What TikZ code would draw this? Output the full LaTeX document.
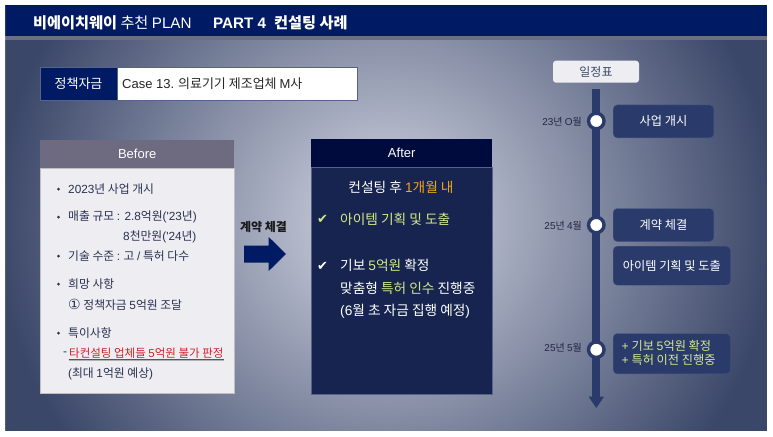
\documentclass[tikz,border=0pt]{standalone}
\usepackage{fontspec}
\setmainfont{Noto Sans CJK KR}
\newfontfamily\la{Liberation Sans}
\newfontfamily\sym{DejaVu Sans}
\definecolor{navy}{HTML}{001A63}
\definecolor{slate}{HTML}{2A3B6B}
\definecolor{dark}{HTML}{3B4769}
\definecolor{centre}{HTML}{C8CCDA}
\definecolor{afterhead}{HTML}{000B3D}
\definecolor{afterbody}{HTML}{16244F}
\definecolor{paper}{HTML}{EEEEF2}
\definecolor{ink}{HTML}{2A3050}
\definecolor{lime}{HTML}{D4E88A}
\definecolor{amber}{HTML}{F0A818}
\definecolor{crimson}{HTML}{D0202A}
\definecolor{strip}{HTML}{6D6D85}
\definecolor{beforehead}{HTML}{6E6B80}
\pgfdeclareradialshading{slideglow}{\pgfpoint{0bp}{0bp}}{color(0bp)=(centre); color(3bp)=(centre!96!dark); color(25bp)=(dark); color(50bp)=(dark)}
\tikzset{
  txt/.style={font=\fontsize{11.8}{13}\selectfont,inner sep=0pt,text=ink},
  wtxt/.style={txt,text=white},
  atxt/.style={wtxt,font=\fontsize{13.7}{15}\selectfont},
  etxt/.style={wtxt,font=\fontsize{12.2}{14}\selectfont},
  head/.style={wtxt,font=\fontsize{13}{15}\selectfont},
  evbox/.style={fill=slate,draw=slate!85!white,line width=.4pt,rounded corners=4pt},
  datelab/.style={font=\fontsize{10}{12}\selectfont,inner sep=0pt,text=ink!80!black,anchor=east},
  stopdot/.style={circle,draw=slate,fill=white,line width=3.4pt,minimum size=15.5pt,inner sep=0pt},
  bul/.style={circle,fill=ink,inner sep=0pt,minimum size=3pt},
  chk/.style={inner sep=0pt,anchor=west,font=\sym\fontsize{13}{15}\selectfont}
}
\begin{document}
\begin{tikzpicture}[x=1pt,y=-1pt]
\useasboundingbox (0,0) rectangle (773,436);
\fill[dark] (3,3) rectangle (769,433);
\begin{scope}
\clip (3,3) rectangle (769,433);
\shade[shading=slideglow] (386,222) ellipse [x radius=390,y radius=375];
\end{scope}
\fill[navy] (3,3) rectangle (769,36);
\fill[strip] (3,36) rectangle (769,40);
\fill[white,even odd rule] (-6,-6) rectangle (779,442) (5,5) rectangle (767,431);
\node[wtxt,anchor=base west,font=\fontsize{15.2}{17}\selectfont] (titleA) at (33,29) {\bfseries 비에이치웨이\mdseries{} 추천 {\la PLAN}};
\node[wtxt,anchor=base west,font=\fontsize{15.2}{17}\selectfont\bfseries] (titleB) at (213,29) {{\la\bfseries PART 4}\hspace{8pt}컨설팅 사례};

\node[fill=navy,draw=slate!80!white,line width=.5pt,minimum width=77pt,minimum height=33pt,inner sep=0pt,head] (fund) at (78.5,83.5) {정책자금};
\node[fill=white,draw=slate!80!white,line width=.5pt,minimum width=240pt,minimum height=33pt,inner sep=0pt,anchor=west] (case) at (117,83.5) {};
\node[head,anchor=west,text=black!85] (caseT) at (122,84) {{\la Case 13.} 의료기기 제조업체 {\la M}사};

\node[fill=paper,draw=black!25,line width=.7pt,minimum width=194pt,minimum height=225pt,inner sep=0pt,anchor=north west] (beforeB) at (40,168) {};
\node[fill=beforehead,minimum width=194pt,minimum height=28pt,inner sep=0pt,anchor=north west,head] (beforeH) at (40,140) {\la Before};
\foreach \n/\y in {a/189,b/217,c/256,d/284,e/333}{\node[bul] (b\n) at (58.5,\y) {};}
\node[txt,anchor=west] (t1) at (68,189) {{\la 2023}년 사업 개시};
\node[txt,anchor=west] (t2) at (68,217) {매출 규모 {\la : 2.8}억원{\la('23}년{\la)}};
\node[txt,anchor=west] (t3) at (123,237) {{\la 8}천만원{\la('24}년{\la)}};
\node[txt,anchor=west] (t4) at (68,256) {기술 수준 {\la :} 고 {\la /} 특허 다수};
\node[txt,anchor=west] (t5) at (68,284) {희망 사항};
\node[txt,anchor=west] (t6) at (68,305) {{\sym\fontsize{14}{15}\selectfont ①} 정책자금 {\la 5}억원 조달};
\node[txt,anchor=west] (t7) at (68,333) {특이사항};
\node[txt,anchor=west] (t8a) at (63,354) {\la -};
\node[txt,anchor=west,text=crimson,font=\fontsize{11.5}{13}\selectfont] (t8) at (69,353.5) {타컨설팅 업체들 {\la 5}억원 불가 판정};
\draw[black!30,line width=.8pt] (t8.west |- 0,360) -- (t8.east |- 0,360);
\draw[crimson,line width=.7pt] (t8.west |- 0,359.2) -- (t8.east |- 0,359.2);
\node[txt,anchor=west] (t9) at (68,374) {{\la(}최대 {\la 1}억원 예상{\la)}};

\node[font=\fontsize{12}{14}\selectfont\bfseries,text=black!90,inner sep=0pt] (deal) at (263.5,227) {계약 체결};
\fill[navy] (244,245.7) -- (268.7,245.7) -- (268.7,237) -- (286,254) -- (268.7,271) -- (268.7,262.7) -- (244,262.7) -- cycle;

\node[fill=afterbody,draw=slate!80!white,line width=.6pt,minimum width=181pt,minimum height=227pt,inner sep=0pt,anchor=north west] (afterB) at (311,166.5) {};
\node[fill=afterhead,minimum width=181pt,minimum height=28pt,inner sep=0pt,anchor=north west,head] (afterH) at (311,138.5) {\la After};
\node[atxt,anchor=center] (a1) at (401,187) {컨설팅 후 {\color{amber}{\la 1}개월 내}};
\node[chk,text=lime] (c1) at (317,219.5) {✔};
\node[atxt,anchor=west,text=lime] (a2) at (340,219) {아이템 기획 및 도출};
\node[chk,text=white] (c2) at (317,266.5) {✔};
\node[atxt,anchor=west] (a3) at (340,265) {기보 {\color{lime}{\la 5}억원} 확정};
\node[atxt,anchor=west] (a4) at (340,288) {맞춤형 {\color{lime}특허 인수} 진행중};
\node[atxt,anchor=west] (a5) at (340,311) {{\la(6}월 초 자금 집행 예정{\la)}};

\node[fill=paper,rounded corners=3pt,minimum width=86pt,minimum height=22pt,inner sep=0pt,font=\fontsize{12}{14}\selectfont,text=dark] (sched) at (596,71.7) {일정표};
\coordinate (lineTop) at (596,89.3);
\coordinate (lineEnd) at (596,397);
\fill[slate] (588.6,396.7) -- (604,396.7) -- (596.3,408) -- cycle;
\draw[slate,line width=7.8pt] (lineTop) -- (lineEnd);
\node[stopdot] (s1) at (596.3,121) {};
\node[stopdot] (s2) at (596.3,225) {};
\node[stopdot] (s3) at (596.3,349.7) {};
\node[datelab] (d1) at (582,122) {{\la 23}년 {\la O}월};
\node[datelab] (d2) at (582,225.5) {{\la 25}년 {\la 4}월};
\node[datelab] (d3) at (582,347.5) {{\la 25}년 {\la 5}월};

\node[evbox,minimum width=100.7pt,minimum height=33pt,inner sep=0pt,anchor=north west,etxt] (e1) at (613,104.7) {사업 개시};
\node[evbox,minimum width=100.7pt,minimum height=33pt,inner sep=0pt,anchor=north west,etxt] (e2) at (613,208.3) {계약 체결};
\node[evbox,minimum width=117.3pt,minimum height=39pt,inner sep=0pt,anchor=north west,etxt] (e3) at (613,246) {아이템 기획 및 도출};
\node[evbox,minimum width=117.3pt,minimum height=40.4pt,inner sep=0pt,anchor=north west] (e4) at (613,333.3) {};
\node[etxt,anchor=west,text=lime] (e4a) at (621.5,346) {{\la +} 기보 {\la 5}억원 확정};
\node[etxt,anchor=west,text=lime] (e4b) at (621.5,360) {{\la +} 특허 이전 진행중};
\end{tikzpicture}
\end{document}
